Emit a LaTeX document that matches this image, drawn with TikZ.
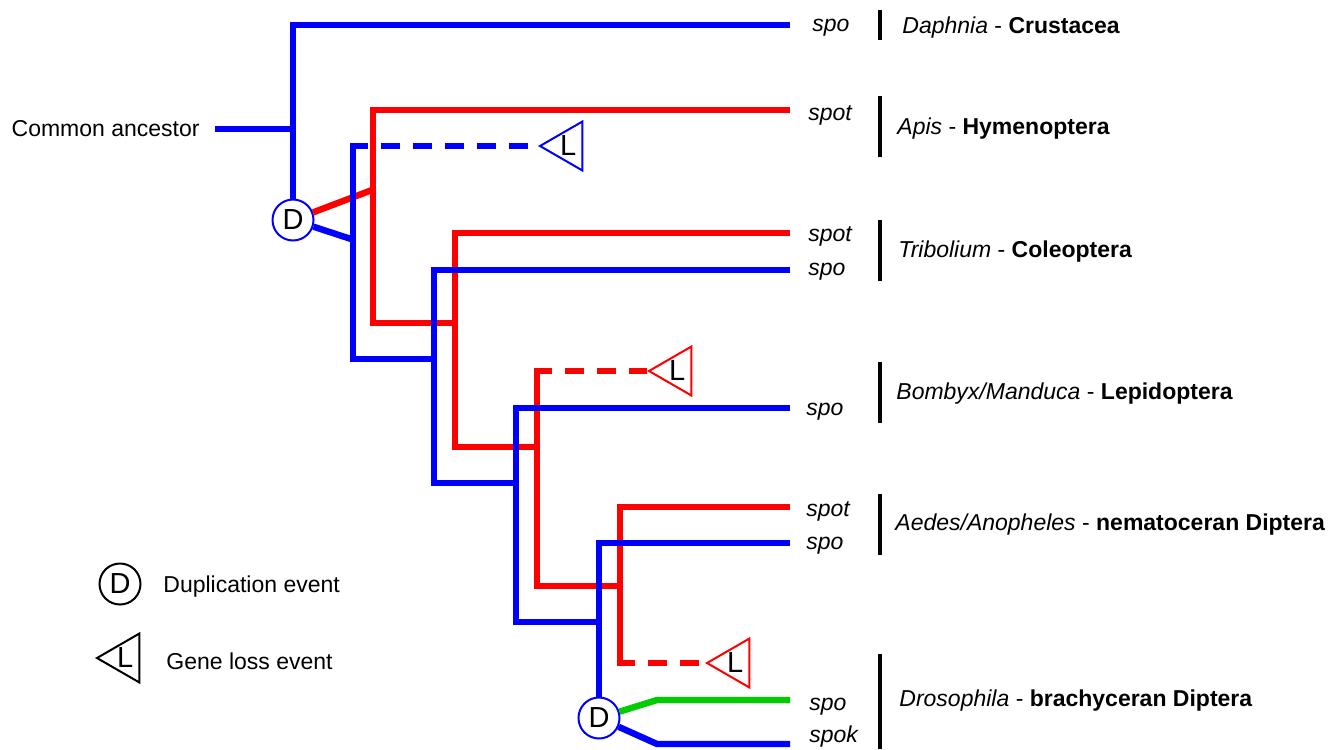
\documentclass[tikz,border=0pt]{standalone}
\usepackage{fontspec}
\setmainfont{Liberation Sans}
\usetikzlibrary{shapes.geometric}

\begin{document}
\begin{tikzpicture}[x=0.5pt, y=-0.5pt,
  branch/.style={line width=3.2pt},
  lossline/.style={line width=3.2pt, dash pattern=on 9.5pt off 6.5pt, dash phase=2pt},
  dupl/.style={circle, draw=#1, line width=1pt, fill=white, minimum size=20.5pt, inner sep=0pt, font=\fontsize{14.5}{16}\selectfont},
  loss/.style={regular polygon, regular polygon sides=3, shape border rotate=90, draw=#1, line width=1pt, fill=white, minimum size=27.5pt, inner sep=0pt, font=\fontsize{14.5}{16}\selectfont},
  gene/.style={anchor=west, inner sep=0pt, font=\fontsize{11.5}{13}\selectfont\itshape},
  taxon/.style={anchor=west, inner sep=0pt, font=\fontsize{11.5}{13}\selectfont}]

\definecolor{treeb}{rgb}{0,0,1}
\definecolor{treer}{rgb}{1,0,0}
\definecolor{treeg}{rgb}{0,0.8,0}

\useasboundingbox (0,0) rectangle (1336,749);

% events
\node[dupl=treeb] (D1) at (293,220) {D};
\node[dupl=treeb] (D2) at (599,718) {D};
\node[loss=treeb, anchor=corner 1] (L1) at (538,146) {L};
\node[loss=treer, anchor=corner 1] (L2) at (647,371) {L};
\node[loss=treer, anchor=corner 1] (L3) at (705,663) {L};

% leaf ends and branch points
\coordinate (root) at (215,129);
\coordinate (eDaph) at (790,25);
\coordinate (eApis) at (790,110);
\coordinate (eTribR) at (790,233);
\coordinate (eTribB) at (790,270);
\coordinate (eBomb) at (790,408);
\coordinate (eAedR) at (790,507);
\coordinate (eAedB) at (790,543);
\coordinate (eDroG) at (790,700);
\coordinate (eDroB) at (790,744);
\coordinate (R1m) at (372,190);
\coordinate (B1m) at (351,239);
\coordinate (R1b) at (373,323);
\coordinate (R2b) at (455,447);
\coordinate (R3t) at (537,371);
\coordinate (R3b) at (537,586);
\coordinate (R4b) at (620,663);
\coordinate (B1t) at (353,146);
\coordinate (B1b) at (353,359);
\coordinate (B2b) at (434,483);
\coordinate (B3b) at (516,622);
\coordinate (g1) at (657,700);
\coordinate (b1) at (657,744);

% red copies
\draw[treer, branch] (D1) -- (R1m);
\draw[treer, branch] (eApis) -| (R1b) -| (R2b);
\draw[treer, branch] (eTribR) -| (R2b) -| (R3b);
\draw[treer, branch, line cap=rect] (R3t) -- (R3b) -| (R4b);
\draw[treer, branch] (eAedR) -| (R4b);
\draw[treer, lossline] (R3t) -- (L2.corner 1);
\draw[treer, lossline] (R4b) -- (L3.corner 1);

% blue copies
\draw[treeb, branch] (root) -- (root -| D1);
\draw[treeb, branch] (eDaph) -| (D1);
\draw[treeb, branch] (D1) -- (B1m);
\draw[treeb, branch, line cap=rect] (B1t) -- (B1b) -| (B2b);
\draw[treeb, branch] (eTribB) -| (B2b) -| (B3b);
\draw[treeb, branch] (eBomb) -| (B3b) -| (D2);
\draw[treeb, branch] (eAedB) -| (D2);
\draw[treeb, lossline] (B1t) -- (L1.corner 1);
\draw[treeb, branch] (D2) -- (b1) -- (eDroB);
\draw[treeg, branch] (D2) -- (g1) -- (eDroG);

\node[taxon, anchor=east] (anc) at (200,129) {Common ancestor};

% gene names
\node[gene] (gDaph) at (812,28) {spo};
\node[gene] (gApis) at (808,115) {spot};
\node[gene] (gTribR) at (808,236) {spot};
\node[gene] (gTribB) at (808,272) {spo};
\node[gene] (gBomb) at (806,412) {spo};
\node[gene] (gAedR) at (806,511) {spot};
\node[gene] (gAedB) at (806,546) {spo};
\node[gene] (gDroG) at (809,707) {spo};
\node[gene] (gDroB) at (809,737) {spok};

% taxa
\draw[line width=2.2pt] (880,10) -- (880,40);
\draw[line width=2.2pt] (880,96) -- (880,157);
\draw[line width=2.2pt] (880,220) -- (880,281);
\draw[line width=2.2pt] (880,362) -- (880,423);
\draw[line width=2.2pt] (880,494) -- (880,555);
\draw[line width=2.2pt] (880,654) -- (880,749);
\node[taxon] (tDaph) at (902,28) {\textit{Daphnia} - \textbf{Crustacea}};
\node[taxon] (tApis) at (897,129) {\textit{Apis} - \textbf{Hymenoptera}};
\node[taxon] (tTrib) at (898,252) {\textit{Tribolium} - \textbf{Coleoptera}};
\node[taxon] (tBomb) at (896,394) {\textit{Bombyx/Manduca} - \textbf{Lepidoptera}};
\node[taxon] (tAed) at (895,525) {\textit{Aedes/Anopheles} - \textbf{nematoceran Diptera}};
\node[taxon] (tDro) at (899,701) {\textit{Drosophila} - \textbf{brachyceran Diptera}};

% key
\node[dupl=black] (keyD) at (120,584) {D};
\node[taxon] (keyDt) at (163,587) {Duplication event};
\node[loss=black, anchor=corner 1] (keyL) at (95,658) {L};
\node[taxon] (keyLt) at (166,661) {Gene loss event};

\end{tikzpicture}
\end{document}
